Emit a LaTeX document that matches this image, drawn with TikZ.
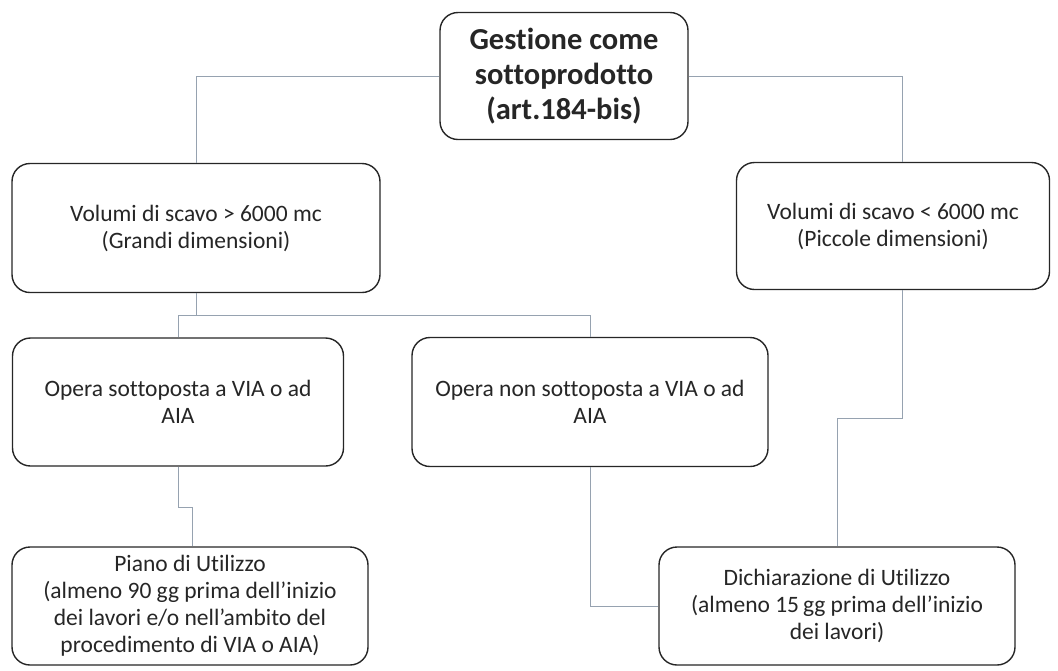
\documentclass[tikz,border=0pt]{standalone}
\usepackage{fontspec}
\setmainfont{Carlito}[Ligatures=NoCommon]
\usepackage{tikz}
\usetikzlibrary{calc}

\begin{document}
\begin{tikzpicture}[x=1pt, y=-1pt,
  box/.style={draw=black!85, line width=1.4pt, rounded corners=18pt, fill=white,
    align=center, inner sep=0pt, text=black!85,
    font=\fontsize{23.5}{27}\selectfont},
  link/.style={draw={rgb,255:red,150;green,162;blue,176}, line width=0.9pt}]
  \useasboundingbox (0,0) rectangle (1058,670);

  \node[box, minimum width=248pt, minimum height=127pt,
    font=\fontsize{30.5}{35}\selectfont\bfseries] (top) at (564,76)
    {Gestione come\\sottoprodotto\\(art.184-bis)};
  \node[box, minimum width=368pt, minimum height=129pt] (big) at (196,228)
    {Volumi di scavo > 6000 mc\\(Grandi dimensioni)};
  \node[box, minimum width=313pt, minimum height=127pt] (small) at (893,226)
    {Volumi di scavo < 6000 mc\\(Piccole dimensioni)};
  \node[box, minimum width=331pt, minimum height=128pt] (viaYes) at (178,402)
    {Opera sottoposta a VIA o ad\\AIA};
  \node[box, minimum width=356pt, minimum height=129pt] (viaNo) at (590,402)
    {Opera non sottoposta a VIA o ad\\AIA};
  \node[box, minimum width=356pt, minimum height=118pt] (piano) at (190,606)
    {Piano di Utilizzo\\(almeno 90 gg prima dell’inizio\\dei lavori e/o nell’ambito del\\procedimento di VIA o AIA)};
  \node[box, minimum width=356pt, minimum height=118pt] (dich) at (837,606)
    {Dichiarazione di Utilizzo\\(almeno 15\,gg prima dell’inizio\\dei lavori)};

  \draw[link] (top.west) -| (big.north);
  \draw[link] (top.east) -| ([xshift=9pt]small.north);
  \draw[link] (big.south) -- ++(0,22) coordinate (fork);
  \draw[link] (viaYes.north) |- (fork) -| (viaNo.north);
  \draw[link] (viaYes.south) -- ++(0,41) -| ([xshift=2pt]piano.north);
  \draw[link] (viaNo.south) |- (dich.west);
  \draw[link] ([xshift=9pt]small.south) -- ++(0,128) -| (dich.north);
\end{tikzpicture}
\end{document}
